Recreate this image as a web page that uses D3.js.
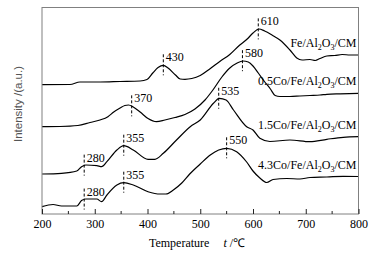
<!DOCTYPE html>
<html>
<head>
    <meta charset="utf-8">
    <title>TPR profiles</title>
    <script src="https://d3js.org/d3.v7.min.js"></script>
    <style type="text/css">
        body { margin: 0; background: #fff; }
        .curve { fill: none; stroke: #000; stroke-width: 1.2; }
        .frame { fill: none; stroke: #808080; stroke-width: 1; }
        .marker { stroke: #000; stroke-width: 1; stroke-dasharray: 3,2; }
        text { font-family: "Liberation Serif", "Times New Roman", serif; font-size: 12px; fill: #000; }
    </style>
</head>
<body>
<script type="text/javascript">
    // temperature (C) / intensity (a.u.)
    let seriesNames = ["Fe/Al2O3/CM", "0.5Co/Fe/Al2O3/CM", "1.5Co/Fe/Al2O3/CM", "4.3Co/Fe/Al2O3/CM"];

    let feT = [200, 253, 272, 310, 348, 386, 399, 410, 420, 430, 439, 453, 462, 471, 484, 500, 518, 537, 556, 575, 589, 600, 611, 622, 636, 651, 670, 683, 693, 708, 718, 727, 740, 755, 769, 784, 800];
    let feI = [129.3, 129.5, 132, 132, 132.5, 133, 134.5, 141, 146.5, 148.7, 146, 139, 135, 134.7, 135.5, 138.5, 145, 152.5, 159.5, 169, 175, 181, 185, 183, 179, 174, 164, 156, 154, 154.5, 153.5, 155.5, 158, 158.5, 159.5, 159, 159];

    let co05T = [200, 234, 268, 291, 310, 325, 336, 348, 357, 364, 373, 386, 401, 417, 433, 452, 471, 490, 509, 524, 541, 556, 570, 581, 591, 600, 610, 621, 633, 642, 651, 670, 689, 708, 727, 740, 765, 800];
    let co05I = [87.3, 87.5, 88.5, 91.5, 94, 97.3, 102, 106, 108.5, 109, 107, 102, 95.5, 92.3, 94, 96.5, 99.5, 105, 114, 124, 137, 146, 151, 153, 152, 148, 141, 133, 125, 118.5, 117.5, 117.5, 118, 118.5, 119, 119.7, 120.2, 120.7];

    let co15T = [200, 237, 266, 275, 283, 304, 313, 323, 342, 355, 373, 401, 414, 430, 455, 481, 500, 525, 536, 549, 563, 588, 600, 613, 632, 670, 708, 740, 771, 800];
    let co15I = [40, 40.7, 43, 47.3, 49, 48.3, 47.3, 52.3, 64, 68.3, 64, 54.7, 54.7, 60.7, 74, 87.3, 94, 110.7, 115.7, 114, 104, 87.3, 84, 75.7, 72.5, 74, 72.3, 74.7, 76.7, 77.3];

    let co43T = [200, 221, 237, 266, 275, 283, 304, 313, 323, 342, 355, 373, 401, 424, 435, 449, 465, 480, 500, 519, 535, 550, 569, 588, 600, 613, 626, 638, 664, 689, 708, 740, 771, 800];
    let co43I = [7.3, 9.5, 8, 8, 13.5, 15, 15, 12.3, 19, 29, 31.3, 29, 22.3, 20, 20, 24, 31, 40, 50, 59, 64, 65.7, 62.3, 52, 43, 36, 31.5, 34.5, 35.5, 35, 36.5, 37, 37.7, 37.5];

    // peak markers: temperature and which curve
    let peakT = [430, 610, 370, 580, 280, 355, 535, 280, 355, 550];
    let peakSeries = [0, 0, 1, 1, 2, 2, 2, 3, 3, 3];

    let xTicks = [200, 300, 400, 500, 600, 700, 800];
    let xMinor = [250, 350, 450, 550, 650, 750];

    let W = 382, H = 258;
    let mLeft = 42, mRight = 358.5, mTop = 7.5, mBottom = 214;

    let svg = d3.select("body").append("svg")
        .attr("width", W)
        .attr("height", H);

    let x = d3.scaleLinear().domain([200, 800]).range([mLeft, mRight]);
    let y = d3.scaleLinear().domain([0, 206.5]).range([mBottom, mTop]);

    let series = [[feT, feI], [co05T, co05I], [co15T, co15I], [co43T, co43I]].map(p =>
        p[0].map((t, i) => ({t: t, v: p[1][i]})));

    let line = d3.line()
        .x(d => x(d.t))
        .y(d => y(d.v))
        .curve(d3.curveMonotoneX);

    svg.selectAll("path.curve")
        .data(series)
        .enter().append("path")
        .attr("class", "curve")
        .attr("d", line);

    // frame
    svg.append("rect")
        .attr("class", "frame")
        .attr("x", mLeft)
        .attr("y", mTop)
        .attr("width", mRight - mLeft)
        .attr("height", mBottom - mTop);

    // x axis, ticks pointing inward
    let xAxis = d3.axisBottom(x).tickValues(xTicks).tickSizeInner(-5).tickSizeOuter(0).tickPadding(5);
    let gx = svg.append("g").attr("transform", "translate(0," + mBottom + ")").call(xAxis);
    gx.select(".domain").remove();
    gx.selectAll("text").style("font-family", "Liberation Serif").style("font-size", "12px");
    gx.selectAll("line").attr("stroke", "#222");
    gx.selectAll("line.minor")
        .data(xMinor)
        .enter().append("line")
        .attr("class", "minor")
        .attr("x1", d => x(d)).attr("x2", d => x(d))
        .attr("y1", 0).attr("y2", -3)
        .attr("stroke", "#222");

    // interpolate curve value at a temperature
    function valueAt(s, t) {
        let i = d3.bisector(d => d.t).left(s, t);
        if (i <= 0) return s[0].v;
        if (i >= s.length) return s[s.length - 1].v;
        let a = s[i - 1], b = s[i];
        return a.v + (b.v - a.v) * (t - a.t) / (b.t - a.t);
    }

    let peaks = peakT.map((t, i) => ({t: t, v: valueAt(series[peakSeries[i]], t)}));

    svg.selectAll("line.marker")
        .data(peaks)
        .enter().append("line")
        .attr("class", "marker")
        .attr("x1", d => x(d.t)).attr("x2", d => x(d.t))
        .attr("y1", d => y(d.v) - 11)
        .attr("y2", d => y(d.v) + 10);

    svg.selectAll("text.peak")
        .data(peaks)
        .enter().append("text")
        .attr("class", "peak")
        .attr("x", d => x(d.t) + 2.5)
        .attr("y", d => y(d.v) - 4)
        .text(d => d.t);

    // series labels with chemical subscripts
    function addLabel(name, s) {
        let last = s[s.length - 1];
        let txt = svg.append("text")
            .attr("x", mRight - 2)
            .attr("y", y(last.v) - 8)
            .attr("text-anchor", "end");
        let chars = name.split("");
        chars.forEach((c, i) => {
            let sub = /\d/.test(c) && i > 0 && /[A-Za-z]/.test(chars[i - 1]);
            let ts = txt.append("tspan").text(c);
            if (sub) ts.attr("font-size", "8px").attr("dy", 3);
            else if (i > 0 && /\d/.test(chars[i - 1]) && /[A-Za-z]/.test(chars[i - 2] || "")) ts.attr("dy", -3);
        });
    }
    seriesNames.forEach((n, i) => addLabel(n, series[i]));

    // axis titles
    let xt = svg.append("text")
        .attr("x", 197)
        .attr("y", 247)
        .attr("text-anchor", "middle");
    xt.append("tspan").text("Temperature");
    xt.append("tspan").attr("dx", 14).attr("font-style", "italic").text("t");
    xt.append("tspan").text(" /\u2103");

    svg.append("text")
        .attr("transform", "translate(22,104) rotate(-90)")
        .attr("text-anchor", "middle")
        .style("font-family", "'Liberation Sans Narrow', 'Liberation Sans', sans-serif")
        .style("font-size", "11.5px")
        .style("fill", "#555")
        .text("Intensity /(a.u.)");
</script>
</body>
</html>
